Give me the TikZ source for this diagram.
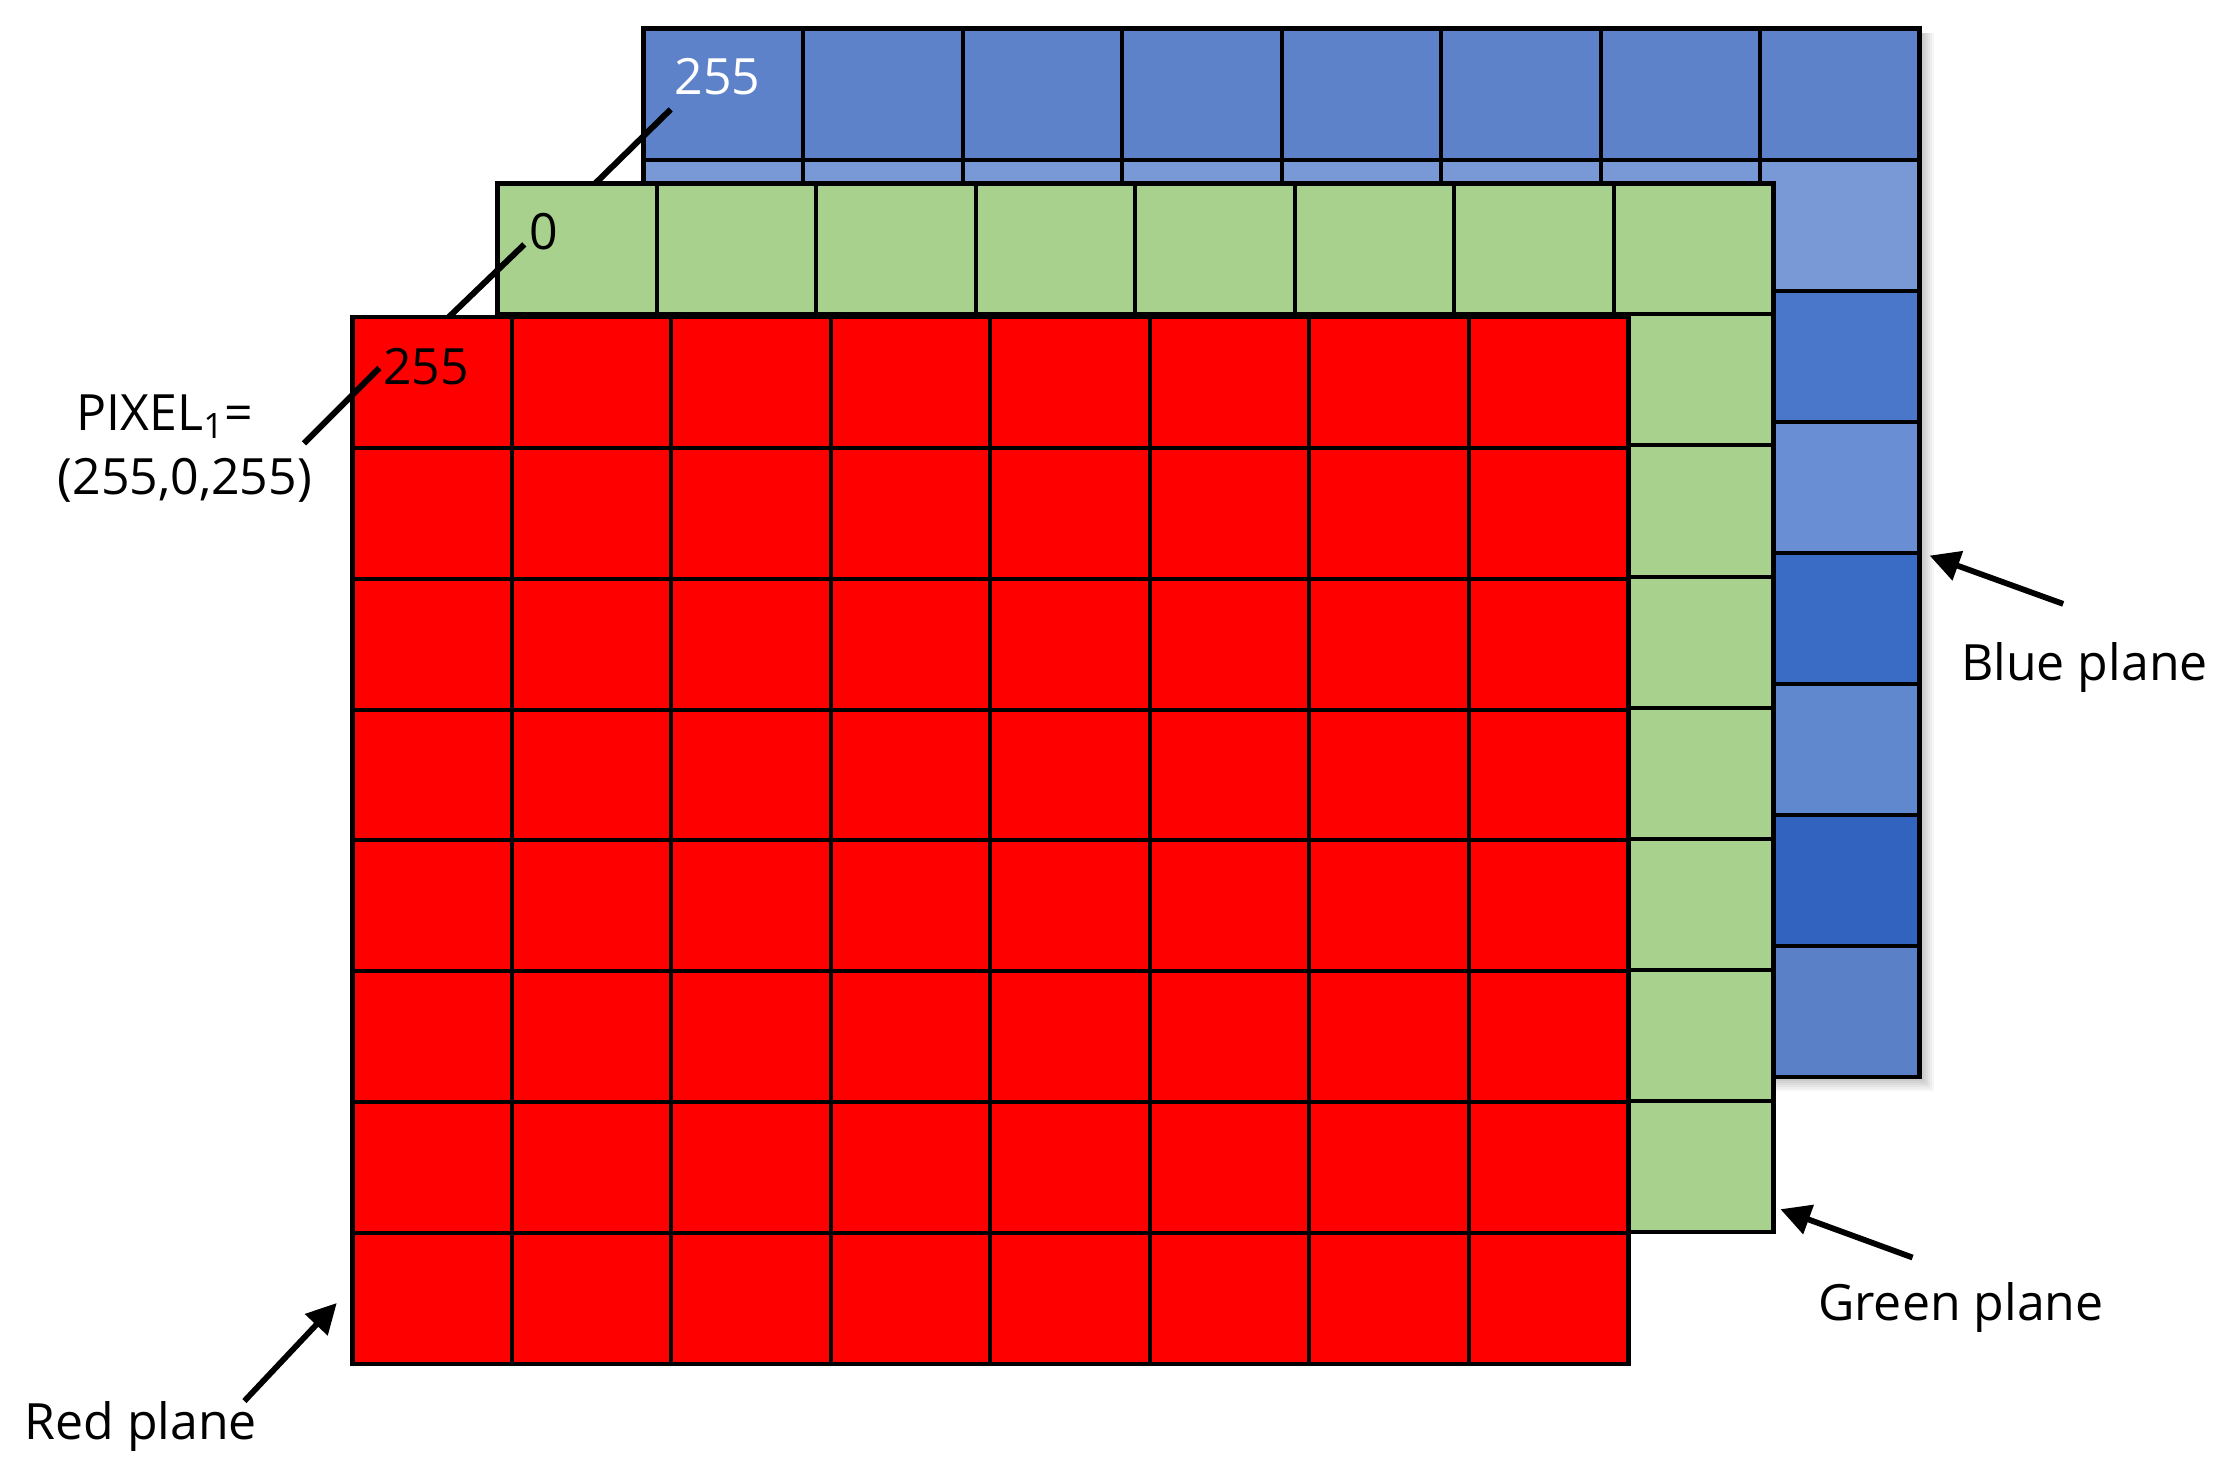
\documentclass[tikz,border=0pt]{standalone}
\usepackage{fontspec}
\setmainfont{Open Sans}
\usetikzlibrary{arrows.meta}
\definecolor{redc}{HTML}{FF0000}
\definecolor{greenc}{HTML}{A9D18E}
\definecolor{bl0}{HTML}{5D82C9}
\definecolor{bl1}{HTML}{7898D6}
\definecolor{bl2}{HTML}{4A77C9}
\definecolor{bl3}{HTML}{698ED4}
\definecolor{bl4}{HTML}{3B6CC5}
\definecolor{bl5}{HTML}{6088CE}
\definecolor{bl6}{HTML}{3264BF}
\definecolor{bl7}{HTML}{5A80C7}
\begin{document}
\begin{tikzpicture}[x=0.7105pt,y=-0.7105pt,
  gridline/.style={line width=2.0pt, black},
  border/.style={line width=2.2pt, black, line join=miter},
  conn/.style={line width=3pt, black},
  arr/.style={line width=2.9pt, black, -{Triangle[length=15pt,width=15pt]}},
  lbl/.style={font=\fontsize{25}{30}\selectfont, inner sep=0pt},
]
\useasboundingbox (0,0) rectangle (1568,1042);
\fill[white] (0,0) rectangle (1568,1042);

% ---------- blue plane ----------
\foreach \k in {1,...,7} {
  \fill[black, fill opacity=0.035] (456,23) rectangle (1351+\k*1.4,758+\k*1.4);
}
\foreach \r in {0,...,7} {
  \fill[bl\r] (453,{20+92.25*\r}) rectangle (1351,{20+92.25*(\r+1)});
}
\foreach \i in {1,...,7} {
  \draw[gridline] ({453+112.25*\i},20) -- ({453+112.25*\i},758);
  \draw[gridline] (453,{20+92.25*\i}) -- (1351,{20+92.25*\i});
}
\draw[border] (453,20) rectangle (1351,758);

% ---------- green plane ----------
\fill[greenc] (350,129) rectangle (1248,867);
\foreach \i in {1,...,7} {
  \draw[gridline] ({350+112.25*\i},129) -- ({350+112.25*\i},867);
  \draw[gridline] (350,{129+92.25*\i}) -- (1248,{129+92.25*\i});
}
\draw[border] (350,129) rectangle (1248,867);

% ---------- red plane ----------
\fill[redc] (248,223) rectangle (1146,960);
\foreach \i in {1,...,7} {
  \draw[gridline] ({248+112.25*\i},223) -- ({248+112.25*\i},960);
  \draw[gridline] (248,{223+92.125*\i}) -- (1146,{223+92.125*\i});
}
\draw[border] (248,223) rectangle (1146,960);

% ---------- values ----------
\node[lbl, text=white] (bv) at (505,54) {255};
\node[lbl] (gv) at (383,163) {0};
\node[lbl] (rv) at (300,258) {255};
\node[lbl] (pix1) at (116,293) {PIXEL\textsubscript{1}=};
\node[lbl] (pix2) at (130,338) {(255,0,255)};

% ---------- connectors ----------
\coordinate (c1a) at (472,77);  \coordinate (c1b) at (419,129);
\coordinate (c2a) at (369,172); \coordinate (c2b) at (316,223);
\coordinate (c3a) at (267,259); \coordinate (c3b) at (214,312);
\draw[conn] (c1a) -- (c1b);
\draw[conn] (c2a) -- (c2b);
\draw[conn] (c3a) -- (c3b);

% ---------- plane labels ----------
\node[lbl] (blab) at (1467,470) {Blue plane};
\node[lbl] (glab) at (1380,920) {Green plane};
\node[lbl] (rlab) at (99,1004) {Red plane};

\coordinate (bt) at (1452,425); \coordinate (bh) at (1358,391);
\coordinate (gt) at (1346,885); \coordinate (gh) at (1253,851);
\coordinate (rt) at (172,986);  \coordinate (rh) at (237,917);
\draw[arr] (bt) -- (bh);
\draw[arr] (gt) -- (gh);
\draw[arr] (rt) -- (rh);
\end{tikzpicture}
\end{document}
